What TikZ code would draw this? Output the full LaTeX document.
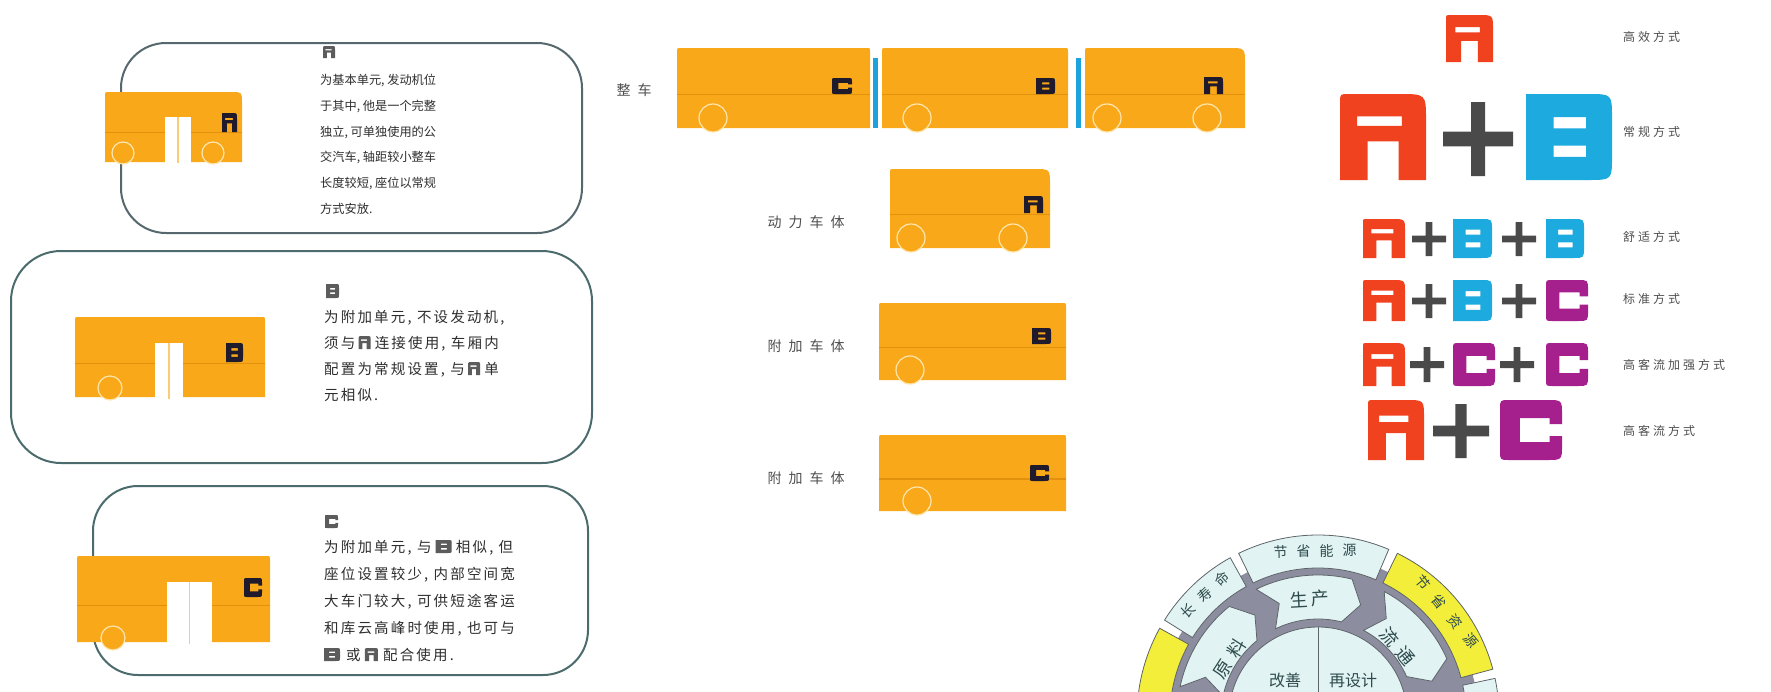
\documentclass[tikz,border=0pt]{standalone}
\usepackage{fontspec}
\usetikzlibrary{calc}
\newfontfamily\cjk{Noto Sans CJK SC}
\newfontfamily\cjkwide[LetterSpace=15]{Noto Sans CJK SC}
\newfontfamily\cjklabel[LetterSpace=25]{Noto Sans CJK SC}
\newfontfamily\cjkspread[LetterSpace=50]{Noto Sans CJK SC}

\definecolor{busor}{HTML}{F9A81A}
\definecolor{busline}{HTML}{E2910D}
\definecolor{wheelrim}{HTML}{FDE6AE}
\definecolor{busink}{HTML}{1F1B2C}
\definecolor{sepblue}{HTML}{1CA3DD}
\definecolor{panelA}{HTML}{56686E}
\definecolor{panelB}{HTML}{4B6B6D}
\definecolor{txt}{HTML}{2E2E2E}
\definecolor{gtxt}{HTML}{5C5C5C}
\definecolor{lbl}{HTML}{4E4E4E}
\definecolor{glred}{HTML}{F0421F}
\definecolor{glblue}{HTML}{1DAADF}
\definecolor{glmag}{HTML}{A51F8D}
\definecolor{glplus}{HTML}{4A4A4A}
\definecolor{ringgrey}{HTML}{8D8DA0}
\definecolor{paleteal}{HTML}{E1F4F3}
\definecolor{ringyel}{HTML}{F2EE3A}
\definecolor{ringtxt}{HTML}{2E4A4C}
\definecolor{ringedge}{HTML}{5E6468}

% unit letter glyphs: #1 top-left corner, #2 width, #3 height, #4 colour
\newcommand\glyphA[4]{\fill[#4,even odd rule,shift={#1},x=#2pt,y=-#3pt]
  (0,1) -- (0,0.1) .. controls (0,0) .. (0.1,0) -- (0.68,0) .. controls (1,0) .. (1,0.3)
  -- (1,1) -- (0.68,1) -- (0.68,0.55) -- (0.32,0.55) -- (0.32,1) -- cycle
  (0.2,0.26) rectangle (0.72,0.37);}
\newcommand\glyphB[4]{\fill[#4,even odd rule,shift={#1},x=#2pt,y=-#3pt]
  (0,0) -- (0.72,0) .. controls (1,0) .. (1,0.28) -- (1,0.72) .. controls (1,1) .. (0.72,1)
  -- (0,1) -- cycle
  (0.32,0.27) rectangle (0.7,0.4)
  (0.32,0.6) rectangle (0.7,0.73);}
\newcommand\glyphC[4]{\fill[#4,shift={#1},x=#2pt,y=-#3pt]
  (0.15,0) -- (0.75,0) .. controls (1,0) .. (1,0.25) -- (1,0.4) -- (0.8,0.4) -- (0.8,0.3)
  -- (0.32,0.3) -- (0.32,0.7) -- (0.8,0.7) -- (0.8,0.6) -- (1,0.6) -- (1,0.75)
  .. controls (1,1) .. (0.75,1) -- (0.15,1) .. controls (0,1) .. (0,0.85) -- (0,0.15)
  .. controls (0,0) .. (0.15,0) -- cycle;}
\newcommand\glyphP[4]{\fill[#4,shift={#1},x=#2pt,y=-#3pt]
  (0.4,0) rectangle (0.6,1) (0,0.4) rectangle (1,0.6);}

% bus body: x, y (top-left), width, height, front corner radius
\newcommand\busbody[5]{%
  \fill[busor] (#1,#2+#4) -- (#1,#2+3) .. controls (#1,#2) .. (#1+3,#2)
    -- (#1+#3-#5,#2) .. controls (#1+#3,#2) .. (#1+#3,#2+#5)
    -- (#1+#3,#2+#4) -- cycle;
  \draw[busline,line width=1.2pt] (#1,#2+0.58*#4) -- (#1+#3,#2+0.58*#4);}
\newcommand\wheel[3]{\filldraw[fill=busor,draw=wheelrim,line width=1.2pt] (#1,#2) circle[radius=#3];}
% double door: x, top, width, bottom
\newcommand\door[4]{\fill[white] (#1,#2) rectangle (#1+#3,#4);
  \draw[busor!60!white,line width=1.3pt] (#1+0.5*#3,#2) -- (#1+0.5*#3,#4);}
% ring pieces
\newcommand\annseg[5]{\filldraw[fill=#5,draw=ringedge,line width=0.8pt]
  (#1:#3) arc[start angle=#1,end angle=#2,radius=#3] -- (#2:#4)
  arc[start angle=#2,end angle=#1,radius=#4] -- cycle;}
\newcommand\arrbox[4]{\filldraw[fill=paleteal,draw=ringedge,line width=0.8pt]
  (#1:#3) arc[start angle=#1,end angle=#2,radius=#3] -- ({#2-7}:{(#3+#4)/2}) -- (#2:#4)
  arc[start angle=#2,end angle=#1,radius=#4] -- ({#1-7}:{(#3+#4)/2}) -- cycle;}

\tikzset{
  paneltxt/.style={anchor=base west,inner sep=0pt,text=txt,font=\cjk\fontsize{12.2}{14}\selectfont},
  panelwide/.style={anchor=base west,inner sep=0pt,text=txt,font=\cjkwide\fontsize{14.5}{16}\selectfont},
  bodylabel/.style={inner sep=0pt,text=lbl,font=\cjkspread\fontsize{14}{16}\selectfont},
  modelabel/.style={anchor=west,inner sep=0pt,text=lbl,font=\cjklabel\fontsize{12}{14}\selectfont},
  ringlbl/.style={inner sep=0pt,text=ringtxt,font=\cjk\fontsize{14}{16}\selectfont},
  ringbig/.style={inner sep=0pt,text=ringtxt,font=\cjk\fontsize{18}{20}\selectfont},
  panelframe/.style={line width=2pt,rounded corners=#1},
}

\begin{document}
\begin{tikzpicture}[x=1pt,y=-1pt]
\useasboundingbox (0,0) rectangle (1771,691);
\fill[white] (0,0) rectangle (1771,691);

% ---------- unit description panels ----------
\draw[panelA,panelframe=45pt] (121,43) rectangle (582,233);
\draw[panelB,panelframe=50pt] (11,251) rectangle (592,463);
\draw[panelB,panelframe=45pt] (93,486) rectangle (588,675);

% unit A bus
\busbody{105}{92}{137}{70}{11}
\door{165}{117}{26}{163}
\wheel{123}{153}{11}
\wheel{213}{153}{11}
\glyphA{(222,113)}{15}{19}{busink}
% unit B bus
\busbody{75}{317}{190}{80}{4}
\door{155}{343}{28}{399}
\wheel{110}{388}{12}
\glyphB{(226,343)}{17}{19}{busink}
% unit C bus
\busbody{77}{556}{193}{86}{4}
\door{167}{582}{45}{644}
\wheel{113}{638}{12}
\glyphC{(244,578)}{18}{19}{busink}

% panel texts
\glyphA{(323,46)}{12}{12}{gtxt}
\node[paneltxt] (p1l1) at (320,84.5) {为基本单元, 发动机位};
\node[paneltxt] (p1l2) at (320,110) {于其中, 他是一个完整};
\node[paneltxt] (p1l3) at (320,136) {独立, 可单独使用的公};
\node[paneltxt] (p1l4) at (320,161.5) {交汽车, 轴距较小整车};
\node[paneltxt] (p1l5) at (320,187.5) {长度较短, 座位以常规};
\node[paneltxt] (p1l6) at (320,213.5) {方式安放.};

\glyphB{(326,284)}{13}{14}{gtxt}
\node[panelwide] (p2l1) at (324,322) {为附加单元, 不设发动机,};
\node[panelwide] (p2l2a) at (324,348) {须与};
\glyphA{($(p2l2a.base east)+(3,-12)$)}{12}{13}{gtxt}
\node[panelwide] (p2l2b) at ($(p2l2a.base east)+(19,0)$) {连接使用, 车厢内};
\node[panelwide] (p2l3a) at (324,374) {配置为常规设置, 与};
\glyphA{($(p2l3a.base east)+(3,-12)$)}{12}{13}{gtxt}
\node[panelwide] (p2l3b) at ($(p2l3a.base east)+(19,0)$) {单};
\node[panelwide] (p2l4) at (324,400) {元相似.};

\glyphC{(325,515)}{13}{13}{gtxt}
\node[panelwide] (p3l1a) at (324,552) {为附加单元, 与};
\glyphB{($(p3l1a.base east)+(4,-12)$)}{16}{13}{gtxt}
\node[panelwide] (p3l1b) at ($(p3l1a.base east)+(24,0)$) {相似, 但};
\node[panelwide] (p3l2) at (324,579) {座位设置较少, 内部空间宽};
\node[panelwide] (p3l3) at (324,606) {大车门较大, 可供短途客运};
\node[panelwide] (p3l4) at (324,633) {和库云高峰时使用, 也可与};
\glyphB{(324,648)}{16}{13}{gtxt}
\node[panelwide] (p3l5a) at (346,660) {或};
\glyphA{($(p3l5a.base east)+(4,-12)$)}{13}{13}{gtxt}
\node[panelwide] (p3l5b) at ($(p3l5a.base east)+(22,0)$) {配合使用.};

% ---------- assembled vehicle and bodies ----------
\node[bodylabel] (whole) at (634,90) {整车};
\busbody{677}{48}{193}{80}{4}
\wheel{713}{118}{14}
\glyphC{(832,78)}{20}{16}{busink}
\fill[sepblue] (873,58) rectangle (877.5,128);
\busbody{882}{48}{186}{80}{4}
\wheel{917}{118}{14}
\glyphB{(1036,78)}{19}{16}{busink}
\fill[sepblue] (1076,58) rectangle (1080.5,128);
\busbody{1085}{48}{160}{80}{16}
\wheel{1107}{118}{14}
\wheel{1207}{118}{14}
\glyphA{(1204,77)}{19}{17}{busink}

\node[bodylabel] (power) at (806,222) {动力车体};
\busbody{890}{169}{160}{79}{16}
\wheel{911}{238}{14}
\wheel{1013}{238}{14}
\glyphA{(1024,196)}{19}{17}{busink}

\node[bodylabel] (extra1) at (806,346) {附加车体};
\busbody{879}{303}{187}{77}{4}
\wheel{910}{370}{14}
\glyphB{(1032,328)}{19}{16}{busink}

\node[bodylabel] (extra2) at (806,478) {附加车体};
\busbody{879}{435}{187}{76}{4}
\wheel{917}{501}{14}
\glyphC{(1030,465)}{19}{16}{busink}

% ---------- combination modes ----------
\glyphA{(1446,15)}{47}{47}{glred}
\node[modelabel] (m1) at (1623,37) {高效方式};

\glyphA{(1340,94)}{86}{86}{glred}
\glyphP{(1443,102)}{70}{74}{glplus}
\glyphB{(1526,94)}{86}{86}{glblue}
\node[modelabel] (m2) at (1623,132) {常规方式};

\glyphA{(1363,219)}{42}{39}{glred}
\glyphP{(1412,222)}{34}{34}{glplus}
\glyphB{(1453,219)}{39}{39}{glblue}
\glyphP{(1502,222)}{34}{34}{glplus}
\glyphB{(1546,219)}{38}{39}{glblue}
\node[modelabel] (m3) at (1623,237) {舒适方式};

\glyphA{(1363,280)}{42}{41}{glred}
\glyphP{(1412,284)}{34}{34}{glplus}
\glyphB{(1453,280)}{39}{41}{glblue}
\glyphP{(1502,284)}{34}{34}{glplus}
\glyphC{(1546,280)}{42}{41}{glmag}
\node[modelabel] (m4) at (1623,299) {标准方式};

\glyphA{(1363,343)}{42}{43}{glred}
\glyphP{(1410,347)}{34}{35}{glplus}
\glyphC{(1453,343)}{42}{43}{glmag}
\glyphP{(1500,347)}{34}{35}{glplus}
\glyphC{(1546,343)}{42}{43}{glmag}
\node[modelabel] (m5) at (1623,365) {高客流加强方式};

\glyphA{(1368,400)}{56}{60}{glred}
\glyphP{(1433,404)}{56}{54}{glplus}
\glyphC{(1500,400)}{62}{60}{glmag}
\node[modelabel] (m6) at (1623,431) {高客流方式};

% ---------- life-cycle wheel ----------
\begin{scope}
\clip (1000,470) rectangle (1771,691);
\begin{scope}[shift={(1318,716)},yscale=-1]
  \fill[ringgrey] (0,0) circle[radius=160];
  \annseg{-12}{12}{148}{181}{paleteal}
  \annseg{15}{64}{148}{181}{ringyel}
  \annseg{67}{116}{148}{181}{paleteal}
  \annseg{119}{148}{148}{181}{paleteal}
  \annseg{151}{192}{148}{181}{ringyel}
  \arrbox{24}{62}{97}{141}
  \arrbox{76}{116}{97}{141}
  \arrbox{129}{168}{97}{141}
  \filldraw[fill=paleteal,draw=ringedge,line width=0.8pt] (0,0) circle[radius=89];
  \draw[ringedge,line width=1pt] (0,89) -- (0,0);
  \node[ringlbl,rotate=1] (save1) at (91:165) {节\hspace{9pt}省\hspace{9pt}能\hspace{9pt}源};
  \node[ringlbl,rotate=43] (life) at (133:166) {长\hspace{9pt}寿\hspace{9pt}命};
  \node[ringlbl,rotate=-51] (save2) at (39:166) {节\hspace{11pt}省\hspace{11pt}资\hspace{11pt}源};
  \node[ringbig,rotate=3] (prod) at (94:117) {生\hspace{3pt}产};
  \node[ringbig,rotate=-50] (circ) at (41:106) {流\hspace{7pt}通};
  \node[ringbig,rotate=57] (raw) at (147:105) {原\hspace{7pt}料};
  \node[ringlbl,font=\cjk\fontsize{16}{18}\selectfont] (impr) at (-33,36) {改善};
  \node[ringlbl,font=\cjk\fontsize{16}{18}\selectfont] (redes) at (35,36) {再设计};
\end{scope}
\end{scope}
\end{tikzpicture}
\end{document}
